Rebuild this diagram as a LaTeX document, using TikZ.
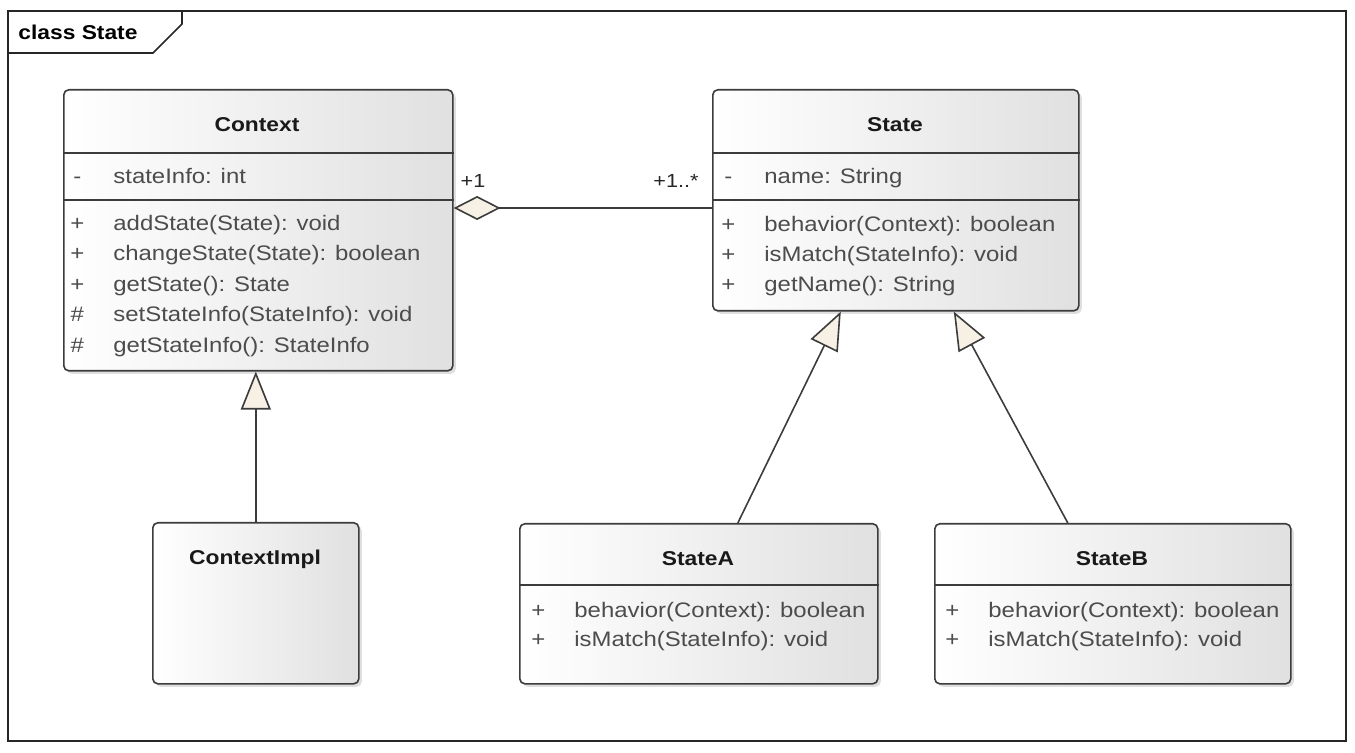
\documentclass[tikz,border=0pt]{standalone}
\usepackage{fontspec}
\setmainfont{Liberation Sans}[FakeStretch=1.14]
\usetikzlibrary{arrows.meta,shadows}

\definecolor{tipfill}{RGB}{246,240,229}
\definecolor{umlline}{RGB}{60,60,60}
\newcommand\memberfont{\fontsize{10.5}{12.6}\selectfont}
\newcommand\namefont{\fontsize{10}{12}\selectfont\bfseries}
\newcommand\vis[1]{\makebox[0pt]{#1}\hspace{18pt}}

\tikzset{
    classbox/.style = {draw = umlline, line width = .8pt, rounded corners = 2.5pt,
        left color = white, right color = black!12, inner sep = 0pt, anchor = north west,
        drop shadow = {opacity = .25, shadow xshift = 1.5pt, shadow yshift = -1.5pt}},
    classname/.style = {font = \namefont, text = black!90, inner sep = 0pt, anchor = base},
    member/.style = {font = \memberfont, text = black!70, inner sep = 0pt, anchor = base west},
    divider/.style = {draw = umlline, line width = .8pt},
    mult/.style = {font = \fontsize{9.5}{11}\selectfont, text = black!85, inner sep = 0pt},
    inherit/.style = {draw = umlline, line width = .8pt,
        -{Triangle[fill = tipfill, length = 19pt, width = 15pt]}},
    aggr/.style = {draw = umlline, line width = .8pt,
        {Diamond[fill = tipfill, length = 23.5pt, width = 12pt]}-}
}

\begin{document}
\begin{tikzpicture}[x = .5pt, y = -.5pt]
    \useasboundingbox (0, 0) rectangle (1355, 753);

    % frame
    \draw [black!85, line width = 1pt] (8, 11) rectangle (1346, 741);
    \draw [black!85, line width = .8pt] (8, 53) -- (153, 53) -- (182, 24) -- (182, 11);
    \node [font = \namefont, inner sep = 0pt, anchor = base west] (frame) at (18, 40) {class State};

    %%%%%%%%%%%%%%%%%%%% Context
    \node [classbox, minimum width = 194.5pt, minimum height = 140.5pt] (context) at (63, 89) {};
    \draw [divider] (context.west |- 0, 153) -- (context.east |- 0, 153);
    \draw [divider] (context.west |- 0, 200) -- (context.east |- 0, 200);
    \node [classname] (contextname) at (257, 132) {Context};
    \node [member] (ca1) at (77, 184) {\vis{-}stateInfo: int};
    \node [member] (cm1) at (77, 231) {\vis{+}addState(State): void};
    \node [member] (cm2) at (77, 261) {\vis{+}changeState(State): boolean};
    \node [member] (cm3) at (77, 292) {\vis{+}getState(): State};
    \node [member] (cm4) at (77, 322) {\vis{\#}setStateInfo(StateInfo): void};
    \node [member] (cm5) at (77, 353) {\vis{\#}getStateInfo(): StateInfo};

    %%%%%%%%%%%%%%%%%%%% State
    \node [classbox, minimum width = 183pt, minimum height = 110.5pt] (state) at (712, 89) {};
    \draw [divider] (state.west |- 0, 153) -- (state.east |- 0, 153);
    \draw [divider] (state.west |- 0, 200) -- (state.east |- 0, 200);
    \node [classname] (statename) at (895, 132) {State};
    \node [member] (sa1) at (728, 184) {\vis{-}name: String};
    \node [member] (sm1) at (728, 232) {\vis{+}behavior(Context): boolean};
    \node [member] (sm2) at (728, 262) {\vis{+}isMatch(StateInfo): void};
    \node [member] (sm3) at (728, 292) {\vis{+}getName(): String};

    %%%%%%%%%%%%%%%%%%%% subclasses
    \node [classbox, minimum width = 103pt, minimum height = 80.5pt] (impl) at (152, 522) {};
    \node [classname] (implname) at (255, 565) {ContextImpl};

    \node [classbox, minimum width = 179pt, minimum height = 80pt] (stateA) at (519, 523) {};
    \draw [divider] (stateA.west |- 0, 585) -- (stateA.east |- 0, 585);
    \node [classname] (stateAname) at (698, 566) {StateA};
    \node [member] (am1) at (538, 617) {\vis{+}behavior(Context): boolean};
    \node [member] (am2) at (538, 646) {\vis{+}isMatch(StateInfo): void};

    \node [classbox, minimum width = 178pt, minimum height = 80pt] (stateB) at (934, 523) {};
    \draw [divider] (stateB.west |- 0, 585) -- (stateB.east |- 0, 585);
    \node [classname] (stateBname) at (1112, 566) {StateB};
    \node [member] (bm1) at (952, 617) {\vis{+}behavior(Context): boolean};
    \node [member] (bm2) at (952, 646) {\vis{+}isMatch(StateInfo): void};

    %%%%%%%%%%%%%%%%%%%% connectors
    \coordinate (aggy) at (0, 208);
    \draw [aggr] (context.east |- aggy) -- (state.west |- aggy);
    \node [mult] (multA) at (473, 181) {+1};
    \node [mult] (multB) at (676, 181) {+1..*};

    \draw [inherit] (impl.north) -- (impl.north |- context.south);
    \draw [inherit] ([xshift = 19.5pt]stateA.north) -- ([xshift = -27.5pt]state.south);
    \draw [inherit] ([xshift = -22.5pt]stateB.north) -- ([xshift = 29pt]state.south);
\end{tikzpicture}
\end{document}
